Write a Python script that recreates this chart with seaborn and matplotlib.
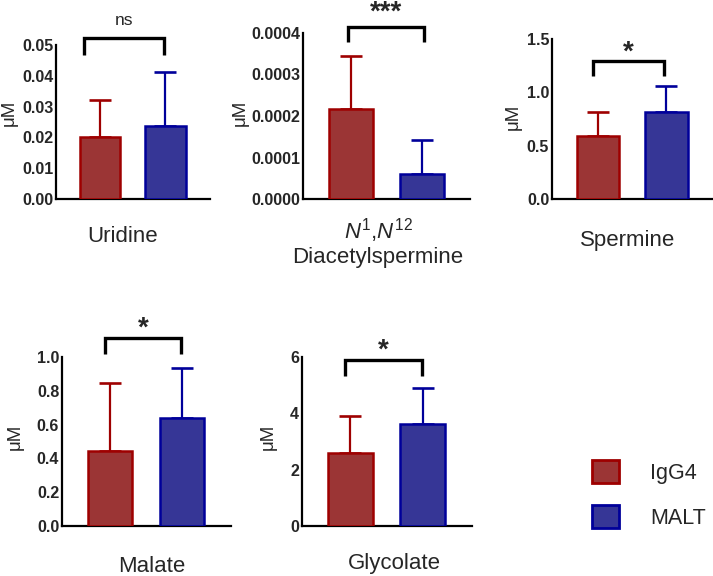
import matplotlib
matplotlib.use("Agg")
import matplotlib.pyplot as plt
from matplotlib.patches import Patch
from matplotlib.ticker import FormatStrFormatter
import seaborn as sns
import pandas as pd

sns.set_style("ticks")
plt.rcParams['font.family'] = ['Liberation Sans', 'DejaVu Sans']
plt.rcParams['mathtext.fontset'] = 'custom'
plt.rcParams['mathtext.it'] = 'Liberation Sans:italic'
plt.rcParams['mathtext.rm'] = 'Liberation Sans'

# ---------------- data ----------------
groups = ["IgG4", "MALT"]
fill_colors = ["#9b3535", "#363696"]
edge_colors = ["#9e0000", "#00009a"]

metabolites = ["Uridine", "$\\mathit{N}^{\\mathit{1}}$,$\\mathit{N}^{\\mathit{12}}$\nDiacetylspermine",
               "Spermine", "Malate", "Glycolate"]
uridine_mean = [0.0201, 0.0237]
uridine_sd = [0.0120, 0.0175]
diacetyl_mean = [0.000217, 0.000060]
diacetyl_sd = [0.000128, 0.000082]
spermine_mean = [0.590, 0.815]
spermine_sd = [0.226, 0.245]
malate_mean = [0.444, 0.639]
malate_sd = [0.402, 0.296]
glycolate_mean = [2.59, 3.62]
glycolate_sd = [1.31, 1.28]

significance = ["ns", "***", "*", "*", "*"]
y_max = [0.05, 0.0004, 1.5, 1.0, 6]
y_step = [0.01, 0.0001, 0.5, 0.2, 2]
y_fmt = ["%.2f", "%.4f", "%.1f", "%.1f", "%d"]

means = [uridine_mean, diacetyl_mean, spermine_mean, malate_mean, glycolate_mean]
sds = [uridine_sd, diacetyl_sd, spermine_sd, malate_sd, glycolate_sd]

# ---------------- layout (pixels) ----------------
W, H = 713, 576
fig = plt.figure(figsize=(W / 100, H / 100), dpi=100)

# left, right, top, bottom of each axes box in pixels
boxes = [(56, 210, 45, 199), (303, 470, 33, 199), (552, 713, 39, 199),
         (62, 231, 357, 526), (302, 472, 357, 526)]
# bracket: x0, x1 (category units), top, bottom (fraction of y_max)
brackets = [(-0.24, 0.985, 1.046, 0.936), (-0.03, 1.03, 1.035, 0.945),
            (-0.07, 0.97, 0.863, 0.769), (-0.07, 0.99, 1.112, 1.018),
            (-0.076, 0.986, 0.982, 0.888)]
sig_offset = [9.4, 5.6, 0.7, 2.0, 1.5]
label_pos = [(123, 236), (378, 242), (628, 240), (152, 567), (394, 563)]
ylab_pos = [(9, 113), (240, 113), (513, 117), (15, 437), (268, 437)]

for i in range(5):
    l, r, t, b = boxes[i]
    ax = fig.add_axes([l / W, 1 - b / H, (r - l) / W, (b - t) / H])
    df = pd.DataFrame({"group": groups, "value": means[i]})
    sns.barplot(data=df, x="group", y="value", hue="group", palette=fill_colors,
                saturation=1, width=0.62, ax=ax, legend=False, errorbar=None, zorder=3)
    for p, ec in zip(ax.patches, edge_colors):
        p.set_edgecolor(ec)
        p.set_linewidth(1.8)
    for j in range(2):
        ax.errorbar(j, means[i][j], yerr=[[0], [sds[i][j]]], fmt="none",
                    ecolor=edge_colors[j], elinewidth=1.6, capsize=7.9,
                    capthick=1.9, zorder=2)
    ax.set_xlim(-0.67, 1.68)
    ax.set_ylim(0, y_max[i])
    ticks = [k * y_step[i] for k in range(int(round(y_max[i] / y_step[i])) + 1)]
    ax.set_yticks(ticks)
    ax.yaxis.set_major_formatter(FormatStrFormatter(y_fmt[i]))
    ax.set_xticks([])
    ax.set_xlabel("")
    ax.set_ylabel("")
    ax.tick_params(axis="y", length=0, pad=2, labelsize=11.5)
    for lab in ax.get_yticklabels():
        lab.set_fontweight("bold")
    sns.despine(ax=ax)
    for s in ["left", "bottom"]:
        ax.spines[s].set_linewidth(1.6)
        ax.spines[s].set_color("black")
    ax.patch.set_alpha(0)

    # significance bracket
    x0, x1, yt, yb = brackets[i]
    ym = y_max[i]
    ax.plot([x0, x0, x1, x1], [yb * ym, yt * ym, yt * ym, yb * ym], color="black",
            lw=2.4, clip_on=False, solid_joinstyle="miter", solid_capstyle="butt")
    is_ns = significance[i] == "ns"
    ax.annotate(significance[i], xy=((x0 + x1) / 2, yt * ym), xytext=(0, sig_offset[i]),
                textcoords="offset points", ha="center", va="baseline",
                fontsize=12.5 if is_ns else 20, fontweight="normal" if is_ns else "bold",
                annotation_clip=False)

    # category label
    lx, ly = label_pos[i]
    fig.text(lx / W, 1 - ly / H, metabolites[i], ha="center", va="center",
             fontsize=16, linespacing=1.1)
    # y label
    yx, yy = ylab_pos[i]
    fig.text(yx / W, 1 - yy / H, "μM", rotation=90, ha="center", va="center",
             fontsize=13.5)

handles = [Patch(facecolor=fc, edgecolor=ec, linewidth=2, label=g)
           for fc, ec, g in zip(fill_colors, edge_colors, groups)]
fig.legend(handles=handles, loc="upper left", bbox_to_anchor=(592 / W, 1 - 460 / H),
           frameon=False, fontsize=15.5, handlelength=1.25, handleheight=1.25,
           handletextpad=1.45, labelspacing=1.0, borderpad=0, borderaxespad=0)

fig.savefig("out.png", dpi=100)
